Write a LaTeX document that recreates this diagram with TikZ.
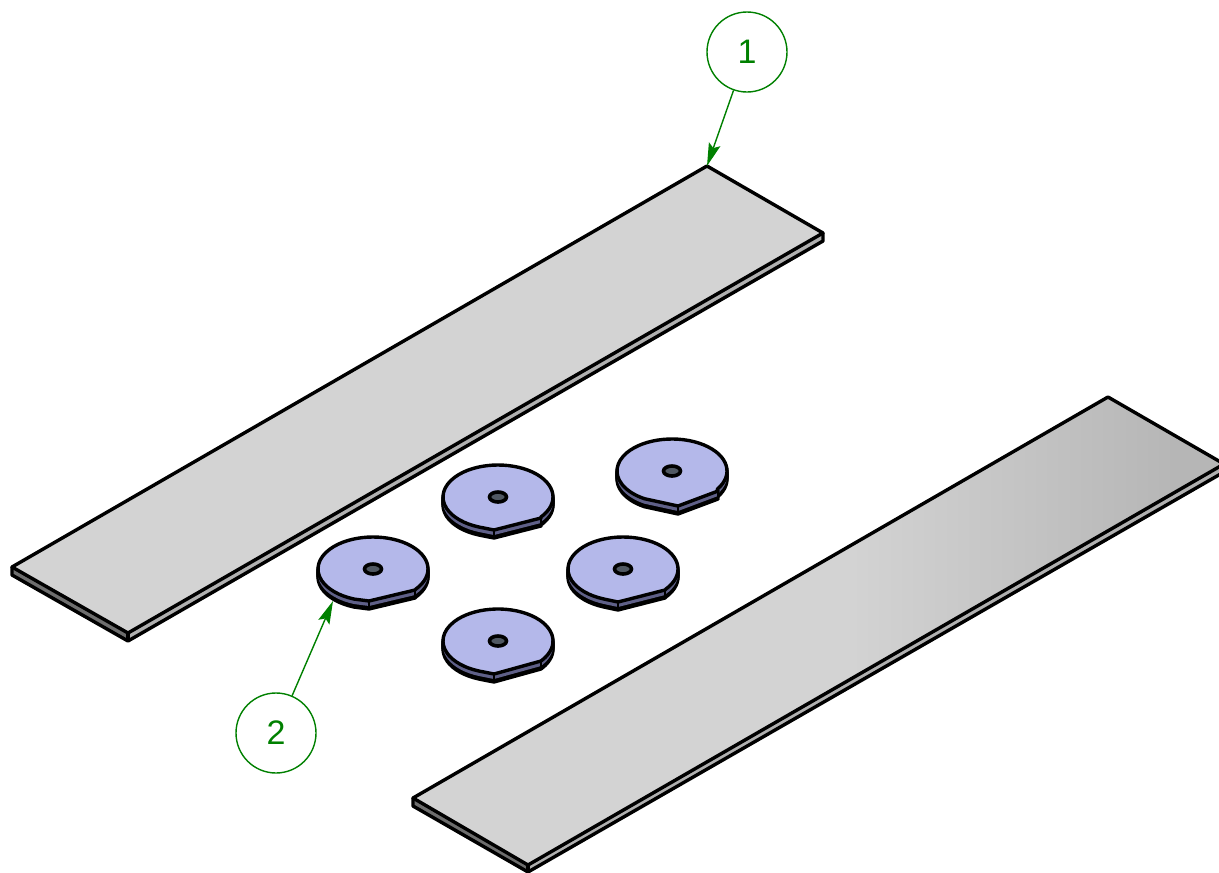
\documentclass[tikz,border=0pt]{standalone}
\usepackage{fontspec}
\setmainfont{Liberation Sans}
\usetikzlibrary{arrows.meta}
\definecolor{platetop}{HTML}{D3D3D3}
\definecolor{platedark}{HTML}{B6B6B6}
\definecolor{sidelight}{HTML}{B0B0B0}
\definecolor{sidedark}{HTML}{6E6E6E}
\definecolor{disctop}{HTML}{B4B8EA}
\definecolor{discside}{HTML}{5F6088}
\definecolor{holefill}{HTML}{505862}
\definecolor{callout}{HTML}{008000}
\pgfdeclarehorizontalshading{plateshade}{100bp}{color(0bp)=(platetop); color(52bp)=(platetop); color(72bp)=(platedark); color(100bp)=(platedark)}
\tikzset{
  edge/.style={draw=black,line width=3.4pt,line join=round},
  callcircle/.style={circle,draw=callout,line width=1.4pt,minimum size=80pt,inner sep=0pt,text=callout,font=\fontsize{34}{34}\selectfont},
  callarrow/.style={draw=callout,line width=1.4pt,fill=callout,-{Stealth[length=23pt,width=12pt,inset=4pt]}}
}
\newcommand{\discdraw}[8]{%
  \def\dshape##1{(#1,#2+##1) ++(#7:55 and 32) arc[start angle=#7,end angle=#8,x radius=55,y radius=32] -- (#1+#3,#2+#4+##1) -- (#1+#5,#2+#6+##1) -- cycle}%
  \foreach \s in {2,4,6,8}{\draw[black,fill=black,line width=3.4pt,line join=round] \dshape{\s};}
  \fill[discside] \dshape{5};
  \draw[edge,fill=disctop] \dshape{0};
  \draw[black,line width=2pt] (#1+#3,#2+#4) -- ++(0,8);
  \draw[black,line width=2pt] (#1+#5,#2+#6) -- ++(0,7);
  \draw[black,line width=3.6pt,fill=holefill] (#1,#2) ellipse[x radius=8.5,y radius=5];
}
\begin{document}
\begin{tikzpicture}[x=1pt,y=-1pt]
\path[use as bounding box,clip] (0,0) rectangle (1219,873);
% upper strip
\coordinate (a1) at (707,166); \coordinate (a2) at (823,233); \coordinate (a3) at (128,633); \coordinate (a4) at (12,567);
\fill[sidelight] (a3) -- (a2) -- ++(0,8) -- (128,641) -- cycle;
\fill[sidedark] (a4) -- (a3) -- (128,641) -- (12,575) -- cycle;
\draw[edge,fill=platetop] (a1) -- (a2) -- (a3) -- (a4) -- cycle;
\draw[edge] (a4) -- (12,575) -- (128,641) -- (823,241) -- (a2);
\draw[edge] (a3) -- (128,641);
% lower strip
\coordinate (b1) at (1108,397); \coordinate (b2) at (1224,464); \coordinate (b3) at (528,865); \coordinate (b4) at (413,798);
\fill[sidelight] (b3) -- (b2) -- ++(0,8) -- (528,873) -- cycle;
\fill[sidedark] (b4) -- (b3) -- (528,873) -- (413,806) -- cycle;
\path[shading=plateshade] (b1) -- (b2) -- (b3) -- (b4) -- cycle;
\draw[edge] (b1) -- (b2) -- (b3) -- (b4) -- cycle;
\draw[edge] (b4) -- (413,806) -- (528,872) -- (1224,472) -- (b2);
\draw[edge] (b3) -- (528,872);
% discs
\discdraw{373}{569}{-4}{32}{42}{21}{39}{-250}
\discdraw{498}{497}{-4}{33}{43}{21}{39}{-250}
\discdraw{672}{471}{6}{35}{46}{20}{35}{-240}
\discdraw{623}{569}{-5}{33}{42}{21}{39}{-250}
\discdraw{498}{641}{-4}{33}{43}{20}{37}{-250}
% callouts
\coordinate (t1) at (707,166);
\coordinate (t2) at (333,601);
\node[callcircle] (c1) at (747,52) {1};
\node[callcircle] (c2) at (276,733) {2};
\draw[callarrow] (c1) -- (t1);
\draw[callarrow] (c2) -- (t2);
\end{tikzpicture}
\end{document}
